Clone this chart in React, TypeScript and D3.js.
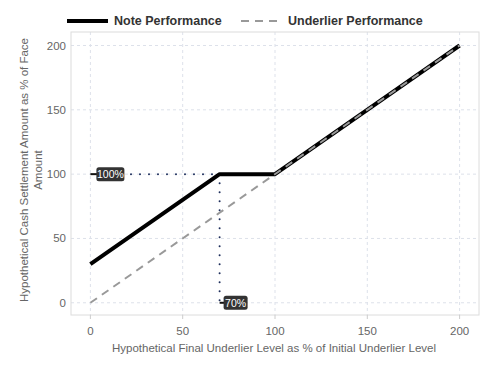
import React from "react";
import * as d3 from "d3";

const noteX = [0, 70, 100, 200];
const noteY = [30, 100, 100, 200];
const underX = [0, 200];
const underY = [0, 200];
const xTicks = [0, 50, 100, 150, 200];
const yTicks = [0, 50, 100, 150, 200];
const barrierX = 70;
const capY = 100;
const labelCap = "100%";
const labelBarrier = "70%";

const W = 496, H = 381;

export default function App() {
  const x = d3.scaleLinear().domain([-10.5, 210.5]).range([71, 479]);
  const y = d3.scaleLinear().domain([-9.5, 210.5]).range([315, 32]);
  const line = d3.line<[number, number]>().x(d => x(d[0])).y(d => y(d[1]));
  const note = noteX.map((v, i) => [v, noteY[i]] as [number, number]);
  const under = underX.map((v, i) => [v, underY[i]] as [number, number]);
  const font = "'Liberation Sans', Arial, sans-serif";
  const grey = "#666";
  return (
    <svg width={W} height={H} style={{ position: "absolute", left: 0, top: 0, fontFamily: font }}>
      <rect x={0} y={0} width={W} height={H} fill="#fff" />
      {/* grid */}
      {xTicks.map(t => (
        <line key={"gx" + t} x1={x(t)} x2={x(t)} y1={32} y2={315} stroke="#dde1ea" strokeDasharray="3,3" strokeWidth={1} />
      ))}
      {yTicks.map(t => (
        <line key={"gy" + t} x1={71} x2={479} y1={y(t)} y2={y(t)} stroke="#dde1ea" strokeDasharray="3,3" strokeWidth={1} />
      ))}
      <rect x={71} y={32} width={408} height={283} fill="none" stroke="#dcdcdc" strokeWidth={1} />
      {/* ticks */}
      {xTicks.map(t => (
        <g key={"tx" + t}>
          <line x1={x(t)} x2={x(t)} y1={315} y2={319} stroke="#ccc" />
          <text x={x(t)} y={335} textAnchor="middle" fontSize={11.5} fill={grey}>{t}</text>
        </g>
      ))}
      {yTicks.map(t => (
        <text key={"ty" + t} x={66} y={y(t) + 4} textAnchor="end" fontSize={11.5} fill={grey}>{t}</text>
      ))}
      {/* axis titles */}
      <text x={274} y={352} textAnchor="middle" fontSize={11.5} fill={grey}>
        Hypothetical Final Underlier Level as % of Initial Underlier Level
      </text>
      <g transform={`translate(27.5,170) rotate(-90)`}>
        <text x={0} y={0} textAnchor="middle" fontSize={11.5} fill={grey}>Hypothetical Cash Settlement Amount as % of Face</text>
        <text x={0} y={14} textAnchor="middle" fontSize={11.5} fill={grey}>Amount</text>
      </g>
      {/* dotted reference lines */}
      <line x1={x(22)} x2={x(barrierX)} y1={y(capY)} y2={y(capY)} stroke="#1f2f5c" strokeWidth={2} strokeDasharray="0,9" strokeLinecap="round" />
      <line x1={x(barrierX)} x2={x(barrierX)} y1={y(capY)} y2={y(0)} stroke="#1f2f5c" strokeWidth={2} strokeDasharray="0,9" strokeLinecap="round" />
      {/* series */}
      <path d={line(note) || ""} fill="none" stroke="#000" strokeWidth={4} strokeLinejoin="round" />
      <path d={line(under) || ""} fill="none" stroke="#999" strokeWidth={2} strokeDasharray="8,6" />
      {/* labels */}
      <line x1={x(0)} x2={x(0) + 7} y1={y(capY)} y2={y(capY)} stroke="#111" strokeWidth={2} />
      <rect x={x(0) + 6} y={y(capY) - 7} width={28} height={14} rx={2.5} fill="#333" />
      <text x={x(0) + 20} y={y(capY) + 4} textAnchor="middle" fontSize={10.5} fill="#fff">{labelCap}</text>
      <line x1={x(barrierX)} x2={x(barrierX) + 5} y1={y(0)} y2={y(0)} stroke="#111" strokeWidth={2} />
      <rect x={x(barrierX) + 4} y={y(0) - 7} width={24} height={14} rx={2.5} fill="#333" />
      <text x={x(barrierX) + 16} y={y(0) + 4} textAnchor="middle" fontSize={10.5} fill="#fff">{labelBarrier}</text>
      {/* legend */}
      <line x1={67} x2={108} y1={21} y2={21} stroke="#000" strokeWidth={4} />
      <text x={114} y={25} fontSize={12.5} fontWeight="bold" fill="#333">Note Performance</text>
      <line x1={241} x2={278} y1={21} y2={21} stroke="#999" strokeWidth={2} strokeDasharray="8,6" />
      <text x={288} y={25} fontSize={12.5} fontWeight="bold" fill="#333">Underlier Performance</text>
    </svg>
  );
}
